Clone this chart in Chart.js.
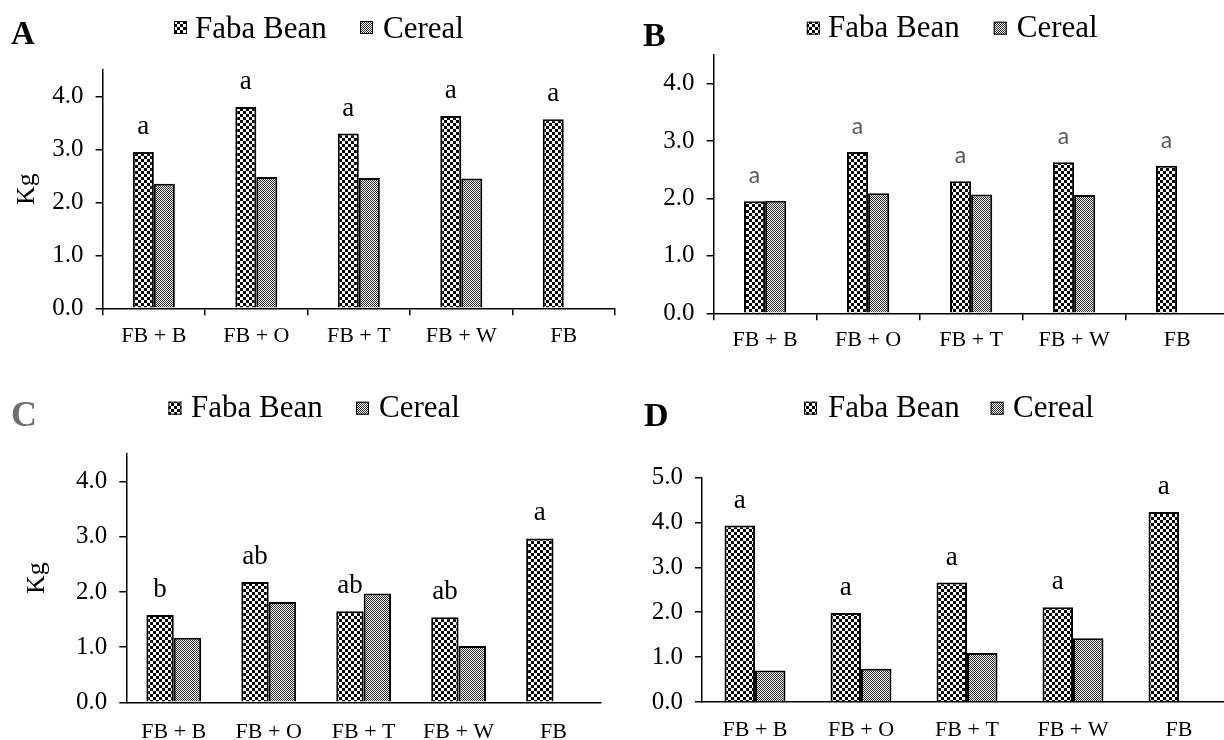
<!DOCTYPE html>
<html><head><meta charset="utf-8">
<script src="https://cdn.jsdelivr.net/npm/chart.js@4/dist/chart.umd.min.js"></script>
<style>
html,body{margin:0;padding:0;background:#fff;overflow:hidden}
#wrap{position:relative;width:1224px;height:740px;overflow:hidden;background:#fff}
canvas{position:absolute}
</style></head><body><div id="wrap">
<canvas id="cA" width="620" height="370" style="left:0;top:0"></canvas>
<canvas id="cB" width="620" height="370" style="left:620px;top:0"></canvas>
<canvas id="cC" width="620" height="370" style="left:0;top:370px"></canvas>
<canvas id="cD" width="620" height="370" style="left:620px;top:370px"></canvas>
</div>
<script>
// ---------- data ----------
const categories = ['FB + B', 'FB + O', 'FB + T', 'FB + W', 'FB'];
const seriesNames = ['Faba Bean', 'Cereal'];
const yTitle = 'Kg';

const fabaA   = [2.95, 3.80, 3.30, 3.63, 3.57];
const cerealA = [2.35, 2.48, 2.46, 2.45, null];
const lettersA = ['a', 'a', 'a', 'a', 'a'];

const fabaB   = [1.95, 2.81, 2.30, 2.63, 2.57];
const cerealB = [1.96, 2.09, 2.07, 2.06, null];
const lettersB = ['a', 'a', 'a', 'a', 'a'];

const fabaC   = [1.58, 2.18, 1.65, 1.54, 2.97];
const cerealC = [1.17, 1.82, 1.97, 1.02, null];
const lettersC = ['b', 'ab', 'ab', 'ab', 'a'];

const fabaD   = [3.93, 1.98, 2.66, 2.11, 4.23];
const cerealD = [0.70, 0.74, 1.09, 1.42, null];
const lettersD = ['a', 'a', 'a', 'a', 'a'];

const yTicksABC = [0, 1, 2, 3, 4];
const yTicksD = [0, 1, 2, 3, 4, 5];
const yMaxABC = 4.5;
const yMaxD = 5.0;

// ---------- patterns ----------
function makePattern(cell, color) {
  const c = document.createElement('canvas');
  c.width = cell * 2; c.height = cell * 2;
  const g = c.getContext('2d');
  g.fillStyle = '#fff'; g.fillRect(0, 0, c.width, c.height);
  g.fillStyle = color;
  g.fillRect(0, 0, cell, cell);
  g.fillRect(cell, cell, cell, cell);
  return g.createPattern(c, 'repeat');
}
const fabaPattern = makePattern(3, '#000');
const cerealPattern = makePattern(1, '#2a2a2a');

Chart.defaults.font.family = '"Liberation Serif", "Times New Roman", serif';
Chart.defaults.color = '#000';

const deco = {
  id: 'deco',
  afterDraw(chart, args, o) {
    const ctx = chart.ctx;
    ctx.save();
    ctx.textAlign = 'left'; ctx.textBaseline = 'alphabetic';
    ctx.font = 'bold ' + o.letterSize + 'px "Liberation Serif"';
    ctx.fillStyle = o.letterColor;
    ctx.fillText(o.letter, o.letterPos[0], o.letterPos[1]);
    ctx.font = '31px "Liberation Serif"';
    chart.data.datasets.forEach((ds, i) => {
      const ix = o.leg.icons[i];
      ctx.fillStyle = ds.backgroundColor;
      ctx.fillRect(ix, o.leg.iconY, 13, 13);
      ctx.strokeStyle = '#000'; ctx.lineWidth = 1;
      ctx.strokeRect(ix + 0.5, o.leg.iconY + 0.5, 12, 12);
      ctx.fillStyle = '#000';
      ctx.fillText(ds.label, o.leg.texts[i], o.leg.base);
    });
    if (o.kgX) {
      ctx.save();
      ctx.translate(o.kgX, (chart.chartArea.top + chart.chartArea.bottom) / 2);
      ctx.rotate(-Math.PI / 2);
      ctx.font = '26px "Liberation Serif"';
      ctx.textAlign = 'center'; ctx.textBaseline = 'middle';
      ctx.fillStyle = '#000';
      ctx.fillText(yTitle, 0, 0);
      ctx.restore();
    }
    const meta = chart.getDatasetMeta(0);
    ctx.font = o.labelFont; ctx.fillStyle = o.labelColor;
    ctx.textAlign = 'center'; ctx.textBaseline = 'alphabetic';
    meta.data.forEach((bar, i) => {
      const t = o.labels[i];
      if (t) ctx.fillText(t, bar.x, bar.y - 18);
    });
    ctx.restore();
  }
};

function makeChart(id, faba, cereal, letters, yTicks, L) {
  return new Chart(document.getElementById(id), {
    type: 'bar',
    data: {
      labels: categories,
      datasets: [
        { label: seriesNames[0], data: faba, backgroundColor: fabaPattern, borderColor: '#000', borderWidth: 2, borderSkipped: 'start' },
        { label: seriesNames[1], data: cereal, backgroundColor: cerealPattern, borderColor: '#000', borderWidth: 2, borderSkipped: 'start' }
      ]
    },
    options: {
      responsive: false, animation: false, events: [],
      layout: { padding: { top: L.top, right: L.right, bottom: 0, left: 0 } },
      datasets: { bar: { categoryPercentage: L.cp, barPercentage: 1 } },
      plugins: {
        legend: { display: false }, tooltip: { enabled: false }, title: { display: false },
        deco: {
          letter: L.letter, letterSize: L.letterSize, letterColor: L.letterColor, letterPos: L.letterPos,
          leg: L.leg, kgX: L.kgX, labels: letters, labelFont: L.labelFont, labelColor: L.labelColor
        }
      },
      scales: {
        x: {
          offset: true,
          grid: { display: true, offset: true, drawOnChartArea: false, drawTicks: L.xTicks, tickLength: 7, color: '#000', lineWidth: 1.5 },
          border: { display: true, color: '#000', width: 1.5 },
          ticks: { font: { size: 22 }, color: '#000', padding: L.xPad, maxRotation: 0, autoSkip: false },
          afterFit: s => { s.height = L.xH; }
        },
        y: {
          min: 0, max: L.max,
          grid: { display: true, drawOnChartArea: false, drawTicks: true, tickLength: 7, color: '#000', lineWidth: 1.5 },
          border: { display: true, color: '#000', width: 1.5 },
          ticks: { autoSkip: false, font: { size: 25 }, color: '#000', padding: 12, callback: v => v.toFixed(1) },
          afterBuildTicks: s => { s.ticks = yTicks.map(v => ({ value: v })); },
          afterFit: s => { s.width = L.yW; }
        }
      }
    },
    plugins: [deco]
  });
}

makeChart('cA', fabaA, cerealA, lettersA, yTicksABC, {
  top: 70, right: 5, yW: 102.6, xH: 61.7, max: yMaxABC, cp: 0.41, xTicks: true, xPad: 8,
  letter: 'A', letterSize: 33, letterColor: '#000', letterPos: [11, 44],
  leg: { icons: [174, 360], texts: [195, 383], iconY: 21, base: 38 },
  kgX: 27, labelFont: '27px "Liberation Serif"', labelColor: '#000'
});
makeChart('cB', fabaB, cerealB, lettersB, yTicksABC, {
  top: 55, right: 11.4, yW: 93.6, xH: 56.7, max: yMaxABC, cp: 0.41, xTicks: true, xPad: 7,
  letter: 'B', letterSize: 34, letterColor: '#000', letterPos: [23, 46],
  leg: { icons: [186.8, 373.7], texts: [208, 396.8], iconY: 21.7, base: 36.7 },
  kgX: null, labelFont: '23px Lato', labelColor: '#595959'
});
makeChart('cC', fabaC, cerealC, lettersC, yTicksABC, {
  top: 84, right: 19, yW: 126.3, xH: 37.7, max: yMaxABC, cp: 0.577, xTicks: false, xPad: 17,
  letter: 'C', letterSize: 36, letterColor: '#6e6e6e', letterPos: [11, 56],
  leg: { icons: [168.4, 356], texts: [191, 379], iconY: 31.7, base: 46.7 },
  kgX: 37, labelFont: '27px "Liberation Serif"', labelColor: '#000'
});
makeChart('cD', fabaD, cerealD, lettersD, yTicksD, {
  top: 107.5, right: 8, yW: 82, xH: 38, max: yMaxD, cp: 0.575, xTicks: false, xPad: 15.5,
  letter: 'D', letterSize: 34, letterColor: '#000', letterPos: [24, 56],
  leg: { icons: [184, 370.6], texts: [208, 393], iconY: 31.7, base: 46.7 },
  kgX: null, labelFont: '27px "Liberation Serif"', labelColor: '#000'
});
</script>
</body></html>
